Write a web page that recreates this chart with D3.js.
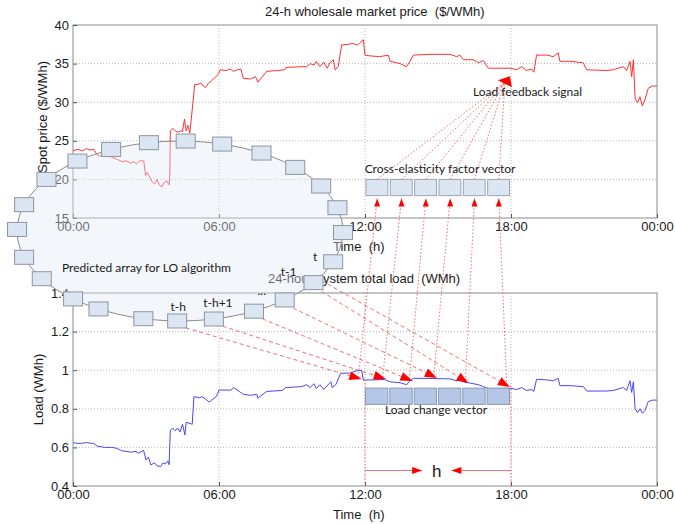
<!DOCTYPE html>
<html><head><meta charset="utf-8">
<script src="https://cdn.jsdelivr.net/npm/d3@7"></script>
<style>body{margin:0;background:#fff} svg{display:block}</style>
</head><body><svg id="c" width="675" height="524"></svg>
<script>
// ---------- data ----------
const xTickValues = [0, 6, 12, 18, 24];
const xTickLabels = ["00:00", "06:00", "12:00", "18:00", "00:00"];
const priceTicks = [15, 20, 25, 30, 35, 40];
const loadTicks = [0.4, 0.6, 0.8, 1, 1.2, 1.4];

const priceTime = [0,0.2,0.4,0.55,0.7,0.85,0.99,1.1,1.25,1.4,1.6,1.8,2.04,2.2,2.35,2.5,2.6,2.75,2.91,2.98,3.05,3.15,3.25,3.35,3.45,3.55,3.64,3.75,3.85,3.95,3.98,4.0,4.1,4.2,4.3,4.45,4.5,4.58,4.65,4.72,4.8,4.94,5.0,5.15,5.25,5.35,5.45,5.55,5.7,5.97,6.05,6.3,6.45,6.6,6.75,6.9,7.0,7.3,7.5,7.6,7.96,8.4,8.7,8.75,9.4,9.6,9.75,9.9,10.0,10.15,10.3,10.45,10.56,10.7,10.77,10.9,11.04,11.3,11.5,11.7,11.8,11.93,12.0,12.2,12.6,12.96,13.03,13.44,13.71,13.85,13.99,14.67,15.49,15.77,15.9,16.04,16.45,16.66,16.86,17.07,18.0,18.23,18.44,18.64,18.85,18.94,19.05,19.47,19.74,19.94,20.01,20.42,20.97,21.11,21.93,22.2,22.62,22.75,22.89,22.96,23.03,23.1,23.2,23.3,23.4,23.5,23.64,23.8,24];
const priceValues = [23.7,23.9,23.7,24.0,23.8,23.9,23.2,23.0,23.2,23.0,22.9,22.6,22.3,22.4,22.1,22.3,22.0,22.4,22.4,20.5,20.9,20.3,19.7,19.4,20.0,19.3,19.0,19.6,19.8,19.3,20.7,26.3,26.6,26.3,26.1,26.3,26.2,27.8,26.3,27.0,26.0,30.3,32.3,32.3,32.5,32.1,31.9,32.4,32.8,33.6,34.2,34.1,34.3,34.0,34.2,34.3,33.1,33.0,33.3,32.6,34.0,34.1,34.2,34.5,34.6,34.6,35.0,34.8,35.3,34.6,35.2,34.4,35.1,35.5,34.2,34.6,37.4,37.5,37.6,37.4,37.7,38.1,36.1,36.0,35.9,36.1,35.3,35.0,34.6,35.3,36.1,36.2,36.2,35.9,36.1,35.5,35.5,35.1,35.4,34.4,34.4,34.2,34.6,34.1,34.3,33.9,36.1,36.1,35.9,36.4,35.3,35.3,35.1,34.2,34.1,34.2,34.6,34.1,35.3,33.3,35.5,30.5,29.9,30.7,29.5,30.3,31.8,32.1,32.1];

const loadTime = [0,0.3,0.55,0.85,0.99,1.3,1.6,1.8,2.0,2.4,2.55,2.7,2.9,3.0,3.1,3.2,3.35,3.45,3.6,3.7,3.8,3.9,3.95,4.0,4.1,4.2,4.3,4.4,4.5,4.6,4.65,4.9,4.97,5.2,5.3,5.45,5.6,5.75,5.9,6.0,6.5,6.6,7.0,7.3,7.55,7.6,7.96,8.6,8.75,9.4,9.6,9.75,9.9,10.0,10.15,10.3,10.6,10.65,10.8,11.0,11.4,11.6,11.86,11.93,12.4,12.8,13.03,13.44,13.71,13.85,13.99,14.67,15.49,15.77,15.9,16.04,16.45,16.66,16.86,17.07,18.0,18.23,18.44,18.64,18.85,18.94,19.05,19.47,19.74,19.94,20.01,20.42,20.97,21.11,21.93,22.2,22.62,22.75,22.89,22.96,23.03,23.1,23.2,23.3,23.4,23.5,23.64,23.8,24];
const loadValues = [0.624,0.62,0.625,0.62,0.607,0.60,0.60,0.595,0.583,0.575,0.58,0.57,0.585,0.535,0.55,0.509,0.52,0.505,0.50,0.52,0.515,0.53,0.51,0.69,0.70,0.685,0.70,0.68,0.72,0.665,0.73,0.72,0.863,0.857,0.863,0.85,0.835,0.85,0.865,0.897,0.897,0.91,0.875,0.87,0.875,0.855,0.89,0.895,0.91,0.915,0.925,0.91,0.93,0.905,0.925,0.90,0.94,0.91,0.925,0.984,0.985,0.995,1.0,0.949,0.95,0.952,0.94,0.935,0.925,0.945,0.958,0.957,0.955,0.945,0.95,0.94,0.93,0.925,0.915,0.905,0.906,0.90,0.91,0.895,0.90,0.89,0.953,0.95,0.945,0.958,0.92,0.92,0.915,0.892,0.892,0.895,0.91,0.895,0.945,0.885,0.94,0.80,0.78,0.80,0.777,0.79,0.837,0.845,0.845];

// annotation data
const vectorSlots = [12, 13, 14, 15, 16, 17];           // one-hour slots of both vectors
const targetHours = [11.85, 12.85, 13.95, 14.95, 16.25, 17.95];
const targetLoads = [0.954, 0.954, 0.944, 0.96, 0.934, 0.913];
const ringAngles = [1,20,35,50,63,78,91,103,120,131,148,163,181,197,215,231,245,259,272,285,300,315,330,345];
const ringSources = [6, 5, 4, 3, 2, 2];
const ringLabels = [{i:1,t:"t",dx:-18,dy:-5},{i:2,t:"t-1",dx:-25,dy:-11},{i:3,t:"...",dx:-23,dy:-9},{i:5,t:"t-h+1",dx:4,dy:-16},{i:6,t:"t-h",dx:1,dy:-14}];

// ---------- layout ----------
const svg = d3.select("#c");
svg.append("rect").attr("width",675).attr("height",524).attr("fill","#fff");
const x = d3.scaleLinear().domain([0,24]).range([73,657]);
const yP = d3.scaleLinear().domain([15,40]).range([218,25]);
const yL = d3.scaleLinear().domain([0.4,1.4]).range([486,293]);
const AX = "Liberation Sans, Arial, sans-serif";
const CAL = "Lato, 'Open Sans', sans-serif";

function panel(y, ticks, fmt, times, vals, color) {
  const g = svg.append("g");
  const [y0, y1] = y.range();
  g.selectAll(".hg").data(ticks.slice(1,-1)).join("line")
    .attr("x1",x(0)).attr("x2",x(24)).attr("y1",d=>y(d)).attr("y2",d=>y(d))
    .attr("stroke","#b8b8b8").attr("stroke-dasharray","1,2").attr("stroke-width",1);
  g.selectAll(".vg").data(xTickValues.slice(1,-1)).join("line")
    .attr("y1",y0).attr("y2",y1).attr("x1",d=>x(d)).attr("x2",d=>x(d))
    .attr("stroke","#b8b8b8").attr("stroke-dasharray","1,2").attr("stroke-width",1);
  g.append("path").datum(times.map((t,i)=>[t,vals[i]]))
    .attr("d", d3.line().x(d=>x(d[0])).y(d=>y(d[1])))
    .attr("fill","none").attr("stroke",color).attr("stroke-width",1);
  g.append("rect").attr("x",x(0)).attr("y",y1).attr("width",x(24)-x(0)).attr("height",y0-y1)
    .attr("fill","none").attr("stroke","#8a8a8a").attr("stroke-width",1);
  const ax = g.append("g").attr("transform",`translate(0,${y0})`)
    .call(d3.axisBottom(x).tickValues(xTickValues).tickFormat((d,i)=>xTickLabels[i]).tickSize(-4).tickPadding(5));
  const ay = g.append("g").attr("transform",`translate(${x(0)},0)`)
    .call(d3.axisLeft(y).tickValues(ticks).tickFormat(fmt).tickSize(-4).tickPadding(4));
  [ax,ay].forEach(a=>{
    a.select(".domain").remove();
    a.selectAll("line").attr("stroke","#555");
    a.selectAll("text").attr("font-family",AX).attr("font-size",13).attr("fill","#1a1a1a");
  });
  ax.selectAll("text").attr("dy","0.62em");
  return g;
}
panel(yP, priceTicks, d=>String(d), priceTime, priceValues, "#ff3030");
panel(yL, loadTicks, d=>String(d), loadTime, loadValues, "#4848f0");

function txt(x0,y0,s,size,fam,anchor){
  return svg.append("text").attr("x",x0).attr("y",y0).text(s)
    .attr("font-family",fam).attr("font-size",size).attr("fill","#1a1a1a")
    .attr("text-anchor",anchor||"start").style("white-space","pre");
}
txt(265,16,"24-h wholesale market price  ($/WMh)",13,AX);
txt(268,283,"24-hour system total load  (WMh)",13,AX);
txt(333,251,"Time  (h)",13,AX);
txt(333,519,"Time  (h)",13,AX);
txt(0,0,"Spot price ($/WMh)",13,AX,"middle").attr("transform",`translate(47,117) rotate(-90)`);
txt(0,0,"Load (WMh)",13,AX,"middle").attr("transform",`translate(43,${(yL(0.4)+yL(1.4))/2}) rotate(-90)`);

// ---------- annotations ----------
const RED = "#ff0000", LRED = "#f25c5c";
function head(x1,y1,x2,y2,len,w){
  const dx=x2-x1, dy=y2-y1, L=Math.hypot(dx,dy), ux=dx/L, uy=dy/L;
  const bx=x2-ux*len, by=y2-uy*len;
  return [[x2,y2],[bx-uy*w/2,by+ux*w/2],[bx+uy*w/2,by-ux*w/2]].map(p=>p.join(",")).join(" ");
}
const ann = svg.append("g");
const ringCx = 180, ringCy = 231, ringRx = 163, ringRy = 90;
const ringPt = a => [ringCx + ringRx*Math.cos(a*Math.PI/180), ringCy + ringRy*Math.sin(a*Math.PI/180)];
const targets = targetHours.map((h,i)=>[x(h), yL(targetLoads[i])]);

[12,18].forEach((h,i)=>{
  ann.append("line").attr("x1",x(h)).attr("x2",x(h)).attr("y1",yL(i?0.92:0.95)).attr("y2",yL(0.4))
    .attr("stroke",LRED).attr("stroke-dasharray","1.5,2").attr("stroke-width",0.9);
});
ann.selectAll(".lcv").data(vectorSlots).join("rect")
  .attr("x",d=>x(d)+0.5).attr("width",d=>x(d+1)-x(d)-2).attr("y",yL(0.907)).attr("height",yL(0.823)-yL(0.907))
  .attr("fill","#b4c7e7").attr("stroke","#8a9ab0").attr("stroke-width",1);
txt((x(12)+x(18))/2-2, yL(0.76)-3, "Load change vector", 12, CAL, "middle");

const hy = yL(0.48);
ann.append("line").attr("x1",x(12)).attr("x2",x(14.35)).attr("y1",hy).attr("y2",hy).attr("stroke",LRED).attr("stroke-width",0.9);
ann.append("line").attr("x1",x(15.55)).attr("x2",x(18)).attr("y1",hy).attr("y2",hy).attr("stroke",LRED).attr("stroke-width",0.9);
ann.append("polygon").attr("points",head(x(12),hy,x(14.35),hy,10,7)).attr("fill",RED);
ann.append("polygon").attr("points",head(x(18),hy,x(15.55),hy,10,7)).attr("fill",RED);
txt(x(14.95), hy+6, "h", 17, AX, "middle");

ann.selectAll(".cev").data(vectorSlots).join("rect")
  .attr("x",d=>x(d)+1).attr("width",d=>x(d+1)-x(d)-2.5).attr("y",yP(20)).attr("height",yP(17.9)-yP(20))
  .attr("fill","#dce6f2").attr("stroke","#9aa6b4").attr("stroke-width",1);
txt((x(12)+x(18))/2+2, yP(20)-6, "Cross-elasticity factor vector", 12, CAL, "middle");

const fb = [x(17.75), yP(32.6)];
vectorSlots.forEach(s=>{
  ann.append("line").attr("x1",x(s+0.5)).attr("y1",yP(20)).attr("x2",fb[0]).attr("y2",fb[1])
    .attr("stroke",LRED).attr("stroke-dasharray","1.5,2").attr("stroke-width",0.9);
});
ann.append("polygon").attr("points",[[fb[0]-7,fb[1]-2],[fb[0]+5,fb[1]-6],[fb[0]+7,fb[1]+5]].map(p=>p.join(",")).join(" ")).attr("fill",RED);
txt(473, fb[1]+14, "Load feedback signal", 12, CAL);

targets.forEach((t,i)=>{
  const ax2 = x(vectorSlots[i]+0.5), ay2 = yP(17.9)+3;
  ann.append("line").attr("x1",t[0]-3).attr("y1",t[1]-2).attr("x2",ax2).attr("y2",ay2)
    .attr("stroke",LRED).attr("stroke-dasharray","1.5,2").attr("stroke-width",0.9);
  ann.append("polygon").attr("points",head(ax2,ay2+20,ax2,ay2,8,6)).attr("fill",RED);
});

ringSources.forEach((si,i)=>{
  const p = ringPt(ringAngles[si]);
  const sx = p[0] + (i===5?8:2), sy = p[1] + (i===5?-2:5);
  const t = targets[i];
  ann.append("line").attr("x1",sx).attr("y1",sy).attr("x2",t[0]).attr("y2",t[1])
    .attr("stroke",LRED).attr("stroke-dasharray","4,3").attr("stroke-width",0.9);
  ann.append("polygon").attr("points",head(sx,sy,t[0],t[1],12,9)).attr("fill",RED);
});

svg.append("ellipse").attr("cx",ringCx).attr("cy",ringCy).attr("rx",ringRx).attr("ry",ringRy)
  .attr("fill","#e2e9f5").attr("fill-opacity",0.4).attr("stroke","#8c8c8c").attr("stroke-width",1);
svg.selectAll(".rs").data(ringAngles).join("rect")
  .attr("x",d=>ringPt(d)[0]-9.5).attr("y",d=>ringPt(d)[1]-7).attr("width",19).attr("height",14)
  .attr("fill","#dce6f2").attr("stroke","#8c96a3").attr("stroke-width",1);
txt(62, 272, "Predicted array for LO algorithm", 12, CAL);
ringLabels.forEach(l=>{
  const p = ringPt(ringAngles[l.i]);
  txt(p[0]+l.dx, p[1]+l.dy+4, l.t, 12, CAL, "middle");
});
</script></body></html>
